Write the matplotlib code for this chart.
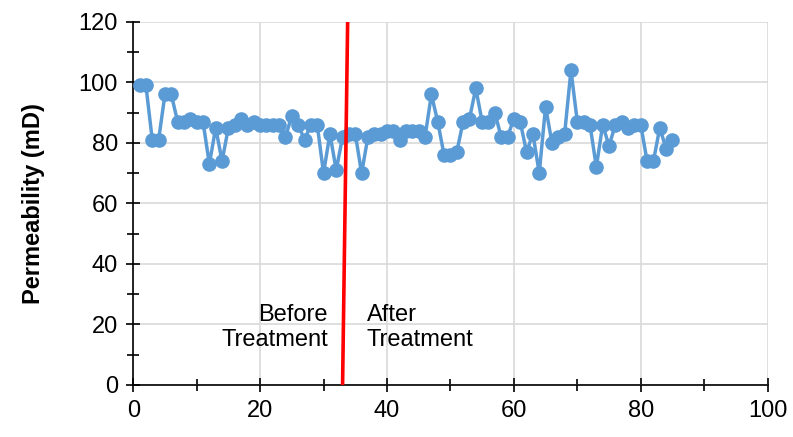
"""
    Permeability of each core sample, before and after treatment
"""

import matplotlib.pyplot as plt
from matplotlib.ticker import MultipleLocator

plt.rcParams["font.family"] = ["Liberation Sans", "DejaVu Sans"]

sample = list(range(1, 86))
permeability = [
    99, 99, 81, 81, 96, 96, 87, 87, 88, 87,
    87, 73, 85, 74, 85, 86, 88, 86, 87, 86,
    86, 86, 86, 82, 89, 86, 81, 86, 86, 70,
    83, 71, 82, 83, 83, 70, 82, 83, 83, 84,
    84, 81, 84, 84, 84, 82, 96, 87, 76, 76,
    77, 87, 88, 98, 87, 87, 90, 82, 82, 88,
    87, 77, 83, 70, 92, 80, 82, 83, 104, 87,
    87, 86, 72, 86, 79, 86, 87, 85, 86, 86,
    74, 74, 85, 78, 81,
]
treatment_x = [33.0, 33.8]
treatment_y = [0, 120]

fig = plt.figure(figsize=(7.93, 4.37), dpi=100)
ax = fig.add_axes([0.168, 0.119, 0.80, 0.831])

ax.plot(sample, permeability, color="#5B9BD5", linewidth=2.5,
        marker="o", markersize=9.5, zorder=3)
ax.plot(treatment_x, treatment_y, color="#FF0000", linewidth=2.6, zorder=4)

ax.text(30.7, 19, "Before\nTreatment", ha="right", va="center",
        fontsize=17)
ax.text(36.8, 19, "After\nTreatment", ha="left", va="center",
        fontsize=17)

ax.set_xlim(0, 100)
ax.set_ylim(0, 120)
ax.xaxis.set_major_locator(MultipleLocator(20))
ax.xaxis.set_minor_locator(MultipleLocator(10))
ax.yaxis.set_major_locator(MultipleLocator(20))
ax.yaxis.set_minor_locator(MultipleLocator(10))
ax.grid(True, which="major", color="#D9D9D9", linewidth=1.2, zorder=0)
ax.set_axisbelow(True)
ax.tick_params(which="both", direction="inout", width=1.2, labelsize=17)
ax.tick_params(which="major", length=10)
ax.tick_params(which="minor", length=8)
ax.tick_params(axis="y", pad=6)
ax.tick_params(axis="x", pad=6)
for side in ["top", "right"]:
    ax.spines[side].set_visible(False)
for side in ["left", "bottom"]:
    ax.spines[side].set_linewidth(1.2)

ax.set_ylabel("Permeability (mD)", fontsize=17, fontweight="bold",
              labelpad=24)

fig.savefig("out.png", dpi=100)
